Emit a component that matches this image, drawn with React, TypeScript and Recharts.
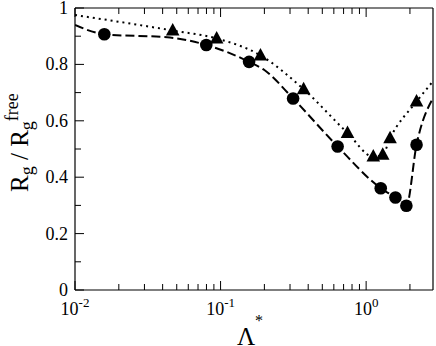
import React from 'react'
import { ComposedChart, Label, Line, XAxis, YAxis } from 'recharts'

// filled circles and the dashed curve
const circleX = [0.0159, 0.0798, 0.157, 0.315, 0.637, 1.26, 1.59, 1.89, 2.22]
const circleY = [0.907, 0.869, 0.809, 0.679, 0.509, 0.361, 0.328, 0.299, 0.515]
const dashedX = [0.01, 0.0159, 0.045, 0.0798, 0.157, 0.2, 0.315, 0.637, 1.26, 1.59, 1.89, 2.22, 2.88]
const dashedY = [0.94, 0.907, 0.895, 0.869, 0.809, 0.78, 0.679, 0.509, 0.361, 0.328, 0.299, 0.515, 0.68]

// filled triangles and the dotted curve
const triangleX = [0.0469, 0.094, 0.188, 0.372, 0.745, 1.12, 1.3, 1.46, 2.22]
const triangleY = [0.92, 0.892, 0.832, 0.712, 0.557, 0.473, 0.48, 0.538, 0.668]
const dottedX = [0.01, 0.0469, 0.094, 0.188, 0.372, 0.745, 1.12, 1.3, 1.46, 2.22, 2.88]
const dottedY = [0.975, 0.92, 0.892, 0.832, 0.712, 0.557, 0.473, 0.48, 0.538, 0.668, 0.74]

const majorXTicks = [0.01, 0.1, 1]
const minorXTicks = [0.02, 0.03, 0.04, 0.05, 0.06, 0.07, 0.08, 0.09, 0.2, 0.3, 0.4, 0.5, 0.6, 0.7, 0.8, 0.9, 2]
const yTicks = [0, 0.1, 0.2, 0.3, 0.4, 0.5, 0.6, 0.7, 0.8, 0.9, 1]

const X_DOMAIN = [0.01, 2.88]
const FONT = "'Liberation Serif', 'DejaVu Serif', serif"

const zip = (xs: number[], ys: number[]) => xs.map((x, i) => ({ x, y: ys[i] }))
const allXTicks = [...majorXTicks, ...minorXTicks].sort((a, b) => a - b)
const isMajorX = (v: number) => majorXTicks.includes(v)
const isMajorY = (v: number) => Math.round(v * 10) % 2 === 0

const BottomTick = (props: any) => {
  const { x, y, payload } = props
  const major = isMajorX(payload.value)
  return (
    <g>
      <line x1={x} y1={y} x2={x} y2={y - (major ? 9 : 6)} stroke="#000" strokeWidth={1} />
      {major && (
        <text x={x} y={y + 25} textAnchor="middle" fontFamily={FONT} fontSize={18} fill="#000">
          10
          <tspan fontSize={13} dy={-8}>
            {Math.round(Math.log10(payload.value))}
          </tspan>
        </text>
      )}
    </g>
  )
}

const TopTick = (props: any) => {
  const { x, y, payload } = props
  const major = isMajorX(payload.value)
  return <line x1={x} y1={y} x2={x} y2={y + (major ? 9 : 6)} stroke="#000" strokeWidth={1} />
}

const LeftTick = (props: any) => {
  const { x, y, payload } = props
  const v = payload.value
  const major = isMajorY(v)
  const text = v === 0 ? '0' : v === 1 ? '1' : v.toFixed(1)
  return (
    <g>
      <line x1={x} y1={y} x2={x + (major ? 9 : 6)} y2={y} stroke="#000" strokeWidth={1} />
      {major && (
        <text x={x - 7} y={y + 6} textAnchor="end" fontFamily={FONT} fontSize={18} fill="#000">
          {text}
        </text>
      )}
    </g>
  )
}

const YTitle = () => (
  <text transform="translate(28, 192) rotate(-90)" fontFamily={FONT} fontSize={25} fill="#000">
    R
    <tspan fontSize={18} dy={5}>g</tspan>
    <tspan dy={-5}> / R</tspan>
    <tspan fontSize={18} dy={5}>g</tspan>
    <tspan fontSize={18} dy={-15}>free</tspan>
  </text>
)

const XTitle = () => (
  <text x={250} y={345} textAnchor="middle" fontFamily={FONT} fontSize={25} fill="#000">
    Λ
    <tspan fontSize={16} dy={-19}>*</tspan>
  </text>
)

const CircleDot = (props: any) => {
  const { cx, cy, index } = props
  return <circle key={`c${index}`} cx={cx} cy={cy} r={6.3} fill="#000" />
}

const TriangleDot = (props: any) => {
  const { cx, cy, index } = props
  return (
    <polygon
      key={`t${index}`}
      points={`${cx},${cy - 7.5} ${cx - 6.8},${cy + 5} ${cx + 6.8},${cy + 5}`}
      fill="#000"
    />
  )
}

export default function App() {
  return (
    <div style={{ position: 'absolute', left: 0, top: 0, background: '#fff' }}>
      <ComposedChart width={436} height={346} margin={{ top: 0, right: 0, bottom: 0, left: 0 }}>
        <XAxis
          xAxisId="bottom"
          type="number"
          dataKey="x"
          scale="log"
          domain={X_DOMAIN}
          allowDataOverflow
          ticks={allXTicks}
          interval={0}
          height={56}
          tickSize={0}
          tickMargin={0}
          tickLine={false}
          tick={<BottomTick />}
          axisLine={{ stroke: '#000', strokeWidth: 1.2 }}
        >
          <Label content={<XTitle />} />
        </XAxis>
        <XAxis
          xAxisId="top"
          orientation="top"
          type="number"
          dataKey="x"
          scale="log"
          domain={X_DOMAIN}
          allowDataOverflow
          ticks={allXTicks}
          interval={0}
          height={8}
          tickSize={0}
          tickMargin={0}
          tickLine={false}
          tick={<TopTick />}
          axisLine={{ stroke: '#000', strokeWidth: 1.2 }}
        />
        <YAxis
          yAxisId="left"
          type="number"
          domain={[0, 1]}
          allowDataOverflow
          ticks={yTicks}
          interval={0}
          width={75}
          tickSize={0}
          tickMargin={0}
          tickLine={false}
          tick={<LeftTick />}
          axisLine={{ stroke: '#000', strokeWidth: 1.2 }}
        >
          <Label content={<YTitle />} />
        </YAxis>
        <YAxis
          yAxisId="right"
          orientation="right"
          type="number"
          domain={[0, 1]}
          width={3}
          tick={false}
          tickLine={false}
          axisLine={{ stroke: '#000', strokeWidth: 1.2 }}
        />
        <Line
          xAxisId="bottom"
          yAxisId="left"
          data={zip(dashedX, dashedY)}
          dataKey="y"
          type="monotone"
          stroke="#000"
          strokeWidth={2}
          strokeDasharray="9 4"
          dot={false}
          activeDot={false}
          isAnimationActive={false}
        />
        <Line
          xAxisId="bottom"
          yAxisId="left"
          data={zip(dottedX, dottedY)}
          dataKey="y"
          type="monotone"
          stroke="#000"
          strokeWidth={2}
          strokeDasharray="2 4"
          dot={false}
          activeDot={false}
          isAnimationActive={false}
        />
        <Line
          xAxisId="bottom"
          yAxisId="left"
          data={zip(circleX, circleY)}
          dataKey="y"
          stroke="none"
          dot={<CircleDot />}
          activeDot={false}
          isAnimationActive={false}
        />
        <Line
          xAxisId="bottom"
          yAxisId="left"
          data={zip(triangleX, triangleY)}
          dataKey="y"
          stroke="none"
          dot={<TriangleDot />}
          activeDot={false}
          isAnimationActive={false}
        />
      </ComposedChart>
    </div>
  )
}
